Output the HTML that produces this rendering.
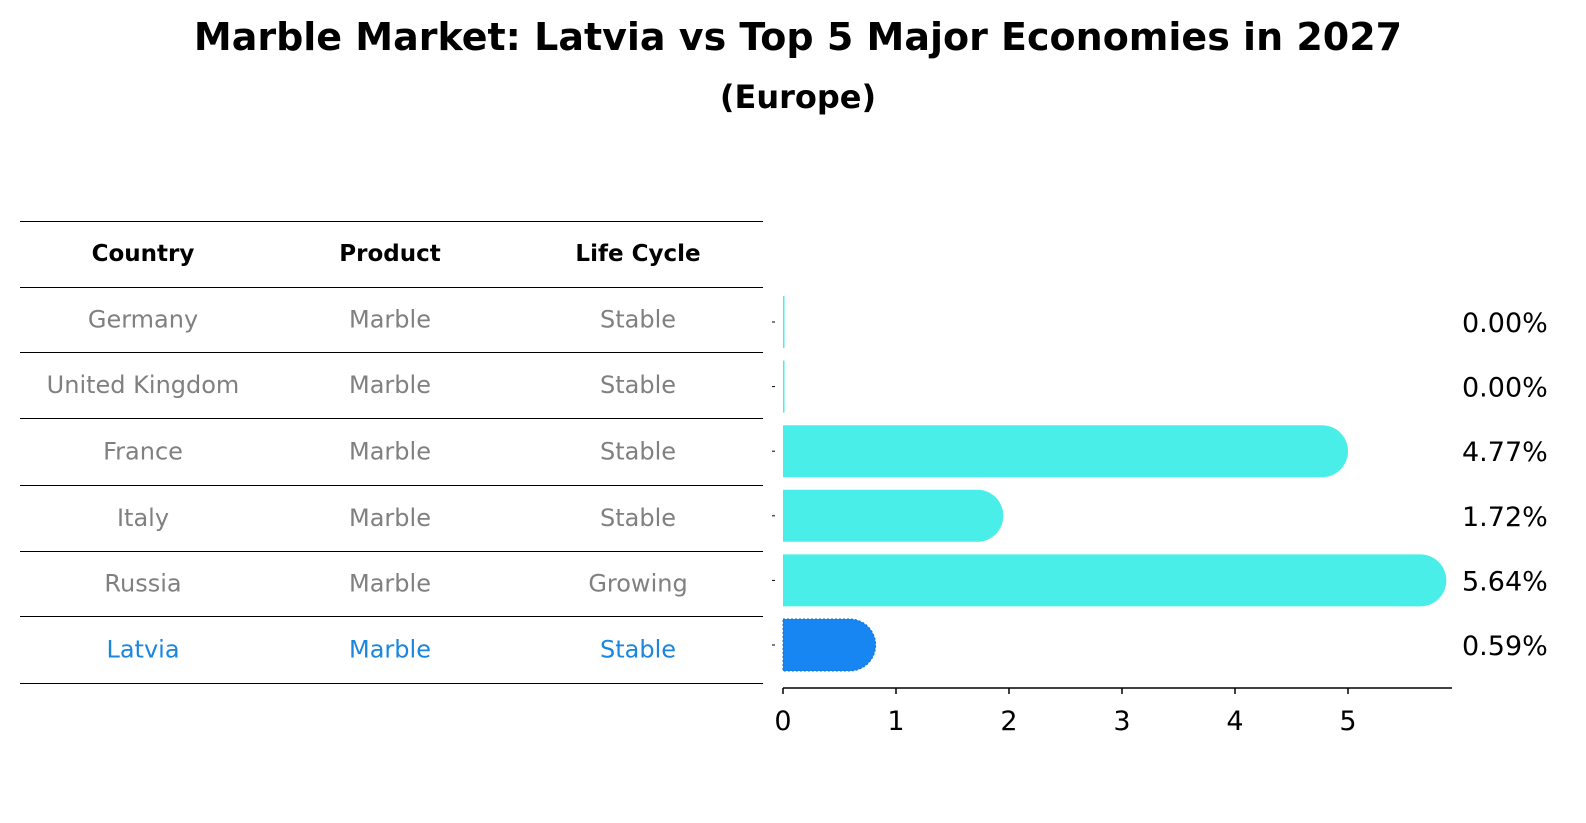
<!DOCTYPE html>
<html><head><meta charset="utf-8"><style>
body{margin:0;background:#fff;}
svg{display:block;font-family:"DejaVu Sans","Liberation Sans",sans-serif;}
</style></head><body>
<svg id="chart" width="1586" height="823">
<text x="798" y="50" text-anchor="middle" font-size="38" font-weight="bold">Marble Market: Latvia vs Top 5 Major Economies in 2027</text>
<text x="798" y="108" text-anchor="middle" font-size="32" font-weight="bold">(Europe)</text>
<g id="table"></g>
<g id="bars"></g>
</svg>
<script>
const countries=["Germany","United Kingdom","France","Italy","Russia","Latvia"];
const products=["Marble","Marble","Marble","Marble","Marble","Marble"];
const lifeCycles=["Stable","Stable","Stable","Stable","Growing","Stable"];
const values=[0.00,0.00,4.77,1.72,5.64,0.59];
const tickValues=[0,1,2,3,4,5];
const NS="http://www.w3.org/2000/svg";
function mk(tag,attrs,parent){const e=document.createElementNS(NS,tag);for(const k in attrs)e.setAttribute(k,attrs[k]);parent.appendChild(e);return e;}
const xScale=v=>783+v*113;
const rowY=i=>322+i*64.6;
const tbl=document.getElementById('table');
const lines=[221,287,352,418,485,551,616,683];
lines.forEach(y=>{const l=mk('line',{x1:20,x2:763,y1:y+0.5,y2:y+0.5,stroke:'#000','stroke-width':1,'shape-rendering':'crispEdges'},tbl);

});
const colX=[143,390,638];
["Country","Product","Life Cycle"].forEach((h,j)=>{const t=mk('text',{x:colX[j],y:261,'text-anchor':'middle','font-size':23,'font-weight':'bold'},tbl);t.textContent=h;

});
countries.forEach((c,i)=>{const y=(lines[i+1]+lines[i+2])/2+8;const col=c==="Latvia"?"#1a86e0":"#808080";
[c,products[i],lifeCycles[i]].forEach((v,j)=>{const t=mk('text',{x:colX[j],y:y,'text-anchor':'middle','font-size':24,fill:col},tbl);t.textContent=v;

});});
const g=document.getElementById('bars');
const h=52,r=26;
values.forEach((v,i)=>{const y=rowY(i)-h/2;const x0=xScale(0),x1=xScale(v);const col=countries[i]==="Latvia"?"#1786f3":"#4aeee9";
let p;
if(v<=0){p=mk('rect',{x:x0,y:y,width:1.5,height:h,fill:col},g);}
else{p=mk('path',{d:`M${x0},${y} H${x1} A${r},${r} 0 0 1 ${x1},${y+h} H${x0} Z`,fill:col},g);
if(countries[i]==="Latvia")p.setAttribute('stroke','#1570c8'),p.setAttribute('stroke-dasharray','2 2'),p.setAttribute('stroke-width','1');}


const t=mk('text',{x:1462,y:rowY(i)+10,'font-size':27},g);t.textContent=v.toFixed(2)+'%';


const yt=mk('line',{x1:772,x2:775,y1:rowY(i),y2:rowY(i),stroke:'#000'},g);

});
const ax=mk('line',{x1:783,x2:1452,y1:688,y2:688,stroke:'#000','stroke-width':1.5},g);


tickValues.forEach(v=>{const x=xScale(v);const tl=mk('line',{x1:x,x2:x,y1:688,y2:694,stroke:'#000','stroke-width':1.5},g);


const t=mk('text',{x:x,y:730,'text-anchor':'middle','font-size':27},g);t.textContent=v;

});
</script>
</body></html>
